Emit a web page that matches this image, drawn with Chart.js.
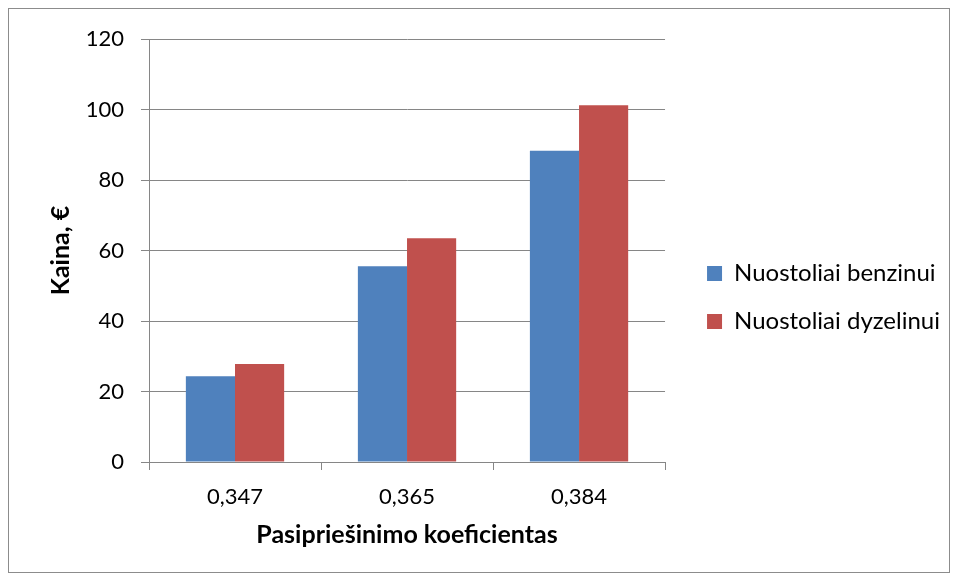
<!DOCTYPE html>
<html>
<head>
<meta charset="utf-8">
<script src="https://cdn.jsdelivr.net/npm/chart.js@4/dist/chart.umd.min.js"></script>
<style>
  html, body { margin: 0; padding: 0; background: #fff; }
  .frame {
    position: absolute; left: 8px; top: 8px;
    width: 940px; height: 563px;
    border: 1px solid #8c8c8c;
  }
  #chart { position: absolute; left: 0; top: 0; }
</style>
</head>
<body>
<div class="frame"></div>
<canvas id="chart" width="957" height="580"></canvas>
<script>
// Chart data
const categories = ['0,347', '0,365', '0,384'];
const benzinas = [24.3, 55.5, 88.3];
const dyzelinas = [27.8, 63.5, 101.2];
const seriesNames = ['Nuostoliai benzinui', 'Nuostoliai dyzelinui'];
const yTicks = [0, 20, 40, 60, 80, 100, 120];

const gridColor = '#868686';
const fontFamily = "Lato, 'Liberation Sans', sans-serif";

document.addEventListener('DOMContentLoaded', function() {
    const ctx = document.getElementById('chart').getContext('2d');

    new Chart(ctx, {
        type: 'bar',
        data: {
            labels: categories,
            datasets: [
                {
                    label: seriesNames[0],
                    data: benzinas,
                    backgroundColor: '#4F81BD',
                    borderWidth: 0
                },
                {
                    label: seriesNames[1],
                    data: dyzelinas,
                    backgroundColor: '#C0504D',
                    borderWidth: 0
                }
            ]
        },
        options: {
            responsive: false,
            animation: false,
            devicePixelRatio: 1,
            layout: {
                padding: { top: 39, left: 0, right: 7, bottom: 24 }
            },
            datasets: {
                bar: {
                    categoryPercentage: 2 / 3.5,
                    barPercentage: 1
                }
            },
            plugins: {
                tooltip: { enabled: false },
                legend: {
                    position: 'right',
                    align: 'center',
                    maxWidth: 400,
                    labels: {
                        boxWidth: 15,
                        boxHeight: 15,
                        padding: 24,
                        color: '#000',
                        font: { size: 24, family: fontFamily }
                    }
                }
            },
            scales: {
                x: {
                    grid: {
                        display: true,
                        drawOnChartArea: false,
                        drawTicks: true,
                        tickLength: 8,
                        color: gridColor,
                        offset: true
                    },
                    border: { display: true, color: gridColor, width: 1 },
                    ticks: {
                        color: '#000',
                        padding: 14,
                        font: { size: 22, family: fontFamily }
                    },
                    title: {
                        display: true,
                        text: 'Pasipriešinimo koeficientas',
                        color: '#000',
                        font: { size: 25, weight: 'bold', family: fontFamily },
                        padding: { top: 0, bottom: 6 }
                    },
                    afterFit: function(scale) {
                        scale.height = 94;
                    }
                },
                y: {
                    min: 0,
                    max: 120,
                    afterBuildTicks: function(scale) {
                        scale.ticks = yTicks.map(v => ({ value: v }));
                    },
                    grid: {
                        color: gridColor,
                        drawTicks: true,
                        tickLength: 8
                    },
                    border: { display: true, color: gridColor, width: 1 },
                    ticks: {
                        color: '#000',
                        padding: 17,
                        font: { size: 22, family: fontFamily }
                    },
                    title: {
                        display: true,
                        text: 'Kaina, €',
                        color: '#000',
                        font: { size: 25, weight: 'bold', family: fontFamily },
                        padding: { top: 46, bottom: 0 }
                    },
                    afterFit: function(scale) {
                        scale.width = 149;
                    }
                },
                // empty spacer between plot and legend
                gap: {
                    type: 'linear',
                    position: 'right',
                    display: true,
                    grid: { display: false },
                    border: { display: false },
                    ticks: { display: false },
                    afterFit: function(scale) {
                        scale.width = 18;
                    }
                }
            }
        }
    });
});
</script>
</body>
</html>
